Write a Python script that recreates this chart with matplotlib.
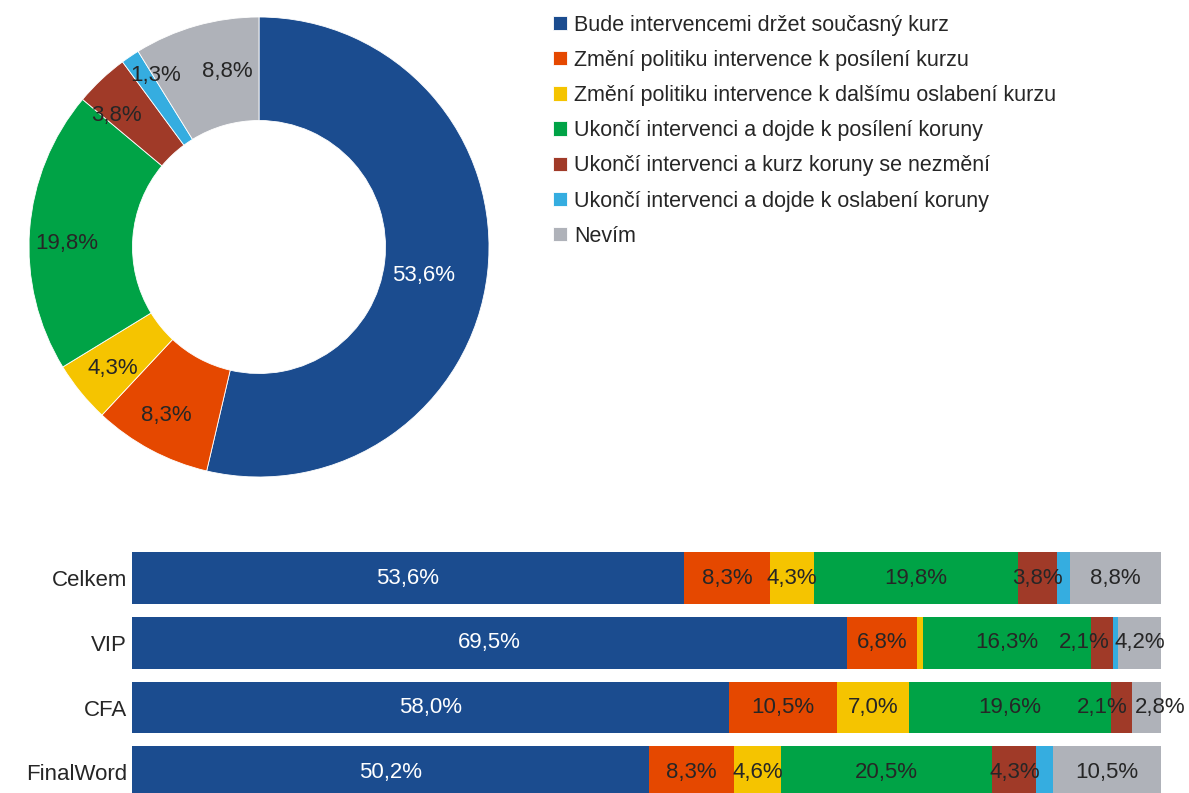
import matplotlib.pyplot as plt

plt.rcParams['font.family'] = ['Liberation Sans', 'DejaVu Sans']

# answer options (legend) and colours
answers = [
    "Bude intervencemi držet současný kurz",
    "Změní politiku intervence k posílení kurzu",
    "Změní politiku intervence k dalšímu oslabení kurzu",
    "Ukončí intervenci a dojde k posílení koruny",
    "Ukončí intervenci a kurz koruny se nezmění",
    "Ukončí intervenci a dojde k oslabení koruny",
    "Nevím",
]
colors = ["#1b4c8f", "#e54800", "#f5c400", "#00a346", "#a03a28", "#35ade0", "#afb2b9"]

# donut = total
total = [53.6, 8.3, 4.3, 19.8, 3.8, 1.3, 8.8]

# stacked bars per group
groups = ["Celkem", "VIP", "CFA", "FinalWord"]
celkem = [53.6, 8.3, 4.3, 19.8, 3.8, 1.3, 8.8]
vip = [69.5, 6.8, 0.6, 16.3, 2.1, 0.5, 4.2]
cfa = [58.0, 10.5, 7.0, 19.6, 2.1, 0.0, 2.8]
finalword = [50.2, 8.3, 4.6, 20.5, 4.3, 1.6, 10.5]
rows = [celkem, vip, cfa, finalword]

# label nudges (pixels) to mimic where excel put the labels
bar_nudges = {(1, 4): -18, (2, 4): -19, (2, 6): 14}
pie_nudges = [(-13, -8), (-9, -11), (-8, -9), (-14, -10), (-20, 2), (-4, 24), (17, 4)]

txt = "#262626"
fmt = lambda v: f"{v:.1f}".replace(".", ",")
px = 72 / 100  # pixels -> points

fig = plt.figure(figsize=(11.89, 7.93), dpi=100)

# donut
ax1 = fig.add_axes([29 / 1189, 1 - 477 / 793, 460 / 1189, 460 / 793])
wedges, texts = ax1.pie(total, colors=colors, startangle=90, counterclock=False,
                        labels=[fmt(v) + "%" for v in total], labeldistance=0.775,
                        wedgeprops=dict(width=0.45, edgecolor="white", linewidth=0.6))
for i, t in enumerate(texts):
    dx, dy = pie_nudges[i]
    ax1.annotate(t.get_text(), t.get_position(), xytext=(dx * px, dy * px),
                 textcoords="offset points", ha="center", va="center", fontsize=16,
                 color="white" if i == 0 else txt)
    t.set_visible(False)
ax1.set_xlim(-1, 1)
ax1.set_ylim(-1, 1)
ax1.set_aspect("equal")

fig.legend(wedges, answers, loc="upper left", bbox_to_anchor=(544 / 1189, 1 - 6 / 793),
           frameon=False, fontsize=15.5, handlelength=0.65, handleheight=0.65,
           handletextpad=0.35, labelspacing=0.66, borderaxespad=0, labelcolor=txt)

# stacked bars
ax2 = fig.add_axes([132 / 1189, 0, 1029 / 1189, 253 / 793])
for r, vals in enumerate(rows):
    s = sum(vals)
    left = 0
    for k, v in enumerate(vals):
        w = v / s * 100
        ax2.barh(r, w, left=left, height=0.8, color=colors[k], linewidth=0)
        if v >= 2:
            ax2.annotate(fmt(v) + "%", (left + w / 2, r),
                         xytext=(bar_nudges.get((r, k), 0) * px, 0),
                         textcoords="offset points", ha="center", va="center", fontsize=16,
                         color="white" if k == 0 else txt, annotation_clip=False)
        left += w
ax2.set_xlim(0, 100)
ax2.set_ylim(3.32, -0.59)
ax2.set_yticks(range(len(groups)))
ax2.set_yticklabels(groups, fontsize=16, color=txt)
ax2.tick_params(left=False, bottom=False, labelbottom=False, pad=0)
for sp in ax2.spines.values():
    sp.set_visible(False)

fig.savefig("out.png", dpi=100)
